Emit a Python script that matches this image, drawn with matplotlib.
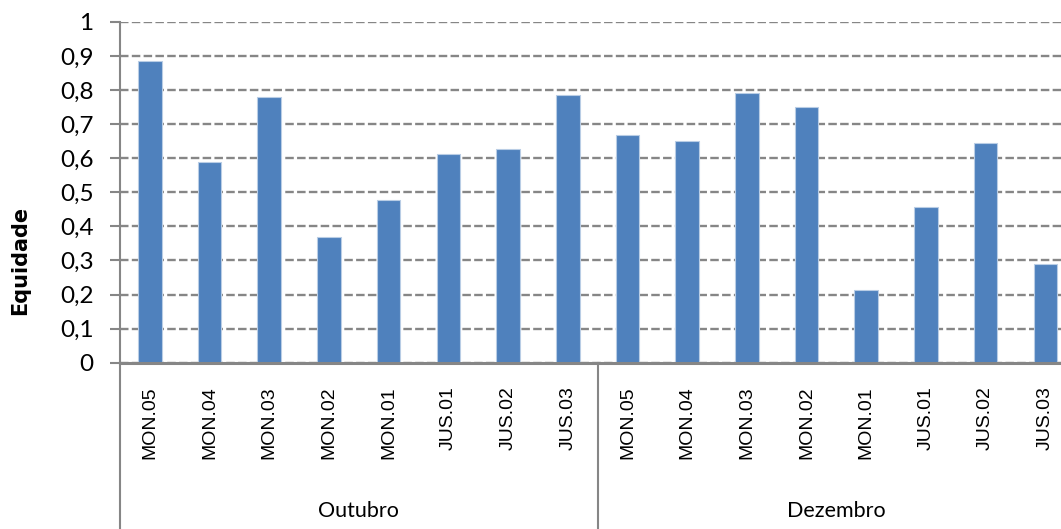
import matplotlib
matplotlib.use("Agg")
import matplotlib.pyplot as plt
import matplotlib.transforms as mtransforms
from matplotlib.ticker import FuncFormatter, MultipleLocator

# Equidade por ponto de amostragem, outubro e dezembro
meses = ["Outubro", "Dezembro"]
pontos = ["MON.05", "MON.04", "MON.03", "MON.02", "MON.01", "JUS.01", "JUS.02", "JUS.03"]
equidade_outubro = [0.885, 0.590, 0.780, 0.368, 0.479, 0.614, 0.626, 0.785]
equidade_dezembro = [0.667, 0.650, 0.791, 0.751, 0.214, 0.456, 0.644, 0.291]

valores = equidade_outubro + equidade_dezembro
rotulos = pontos + pontos
n = len(valores)

W, H = 1061, 529
fig = plt.figure(figsize=(W / 100, H / 100), dpi=100)

# área do gráfico (em pixels): eixo y em x=120, zero em y=362.7, topo em y=22
x0, y_zero, y_top, cat_w = 120, 362.7, 22, 59.7
ax = fig.add_axes([x0 / W, 1 - y_zero / H, n * cat_w / W, (y_zero - y_top) / H])

cinza = "#868686"
azul = "#4F81BD"

ax.bar(range(n), valores, width=0.395, color=azul, edgecolor="#B9CDE5",
       linewidth=0.8, zorder=3)

ax.set_xlim(-0.5, n - 0.5)
ax.set_ylim(0, 1)
ax.yaxis.set_major_locator(MultipleLocator(0.1))
ax.yaxis.set_major_formatter(
    FuncFormatter(lambda v, p: "0" if abs(v) < 1e-9 else ("1" if abs(v - 1) < 1e-9 else f"{v:.1f}".replace(".", ","))))
ax.grid(axis="y", color=cinza, linestyle=(0, (3.6, 1.4)), linewidth=1.7, zorder=1)
ax.set_xticks([])

for s in ["top", "right"]:
    ax.spines[s].set_visible(False)
ax.spines["left"].set_color(cinza)
ax.spines["left"].set_linewidth(1.5)
ax.spines["bottom"].set_color(cinza)
ax.spines["bottom"].set_linewidth(2.2)
ax.spines["bottom"].set_zorder(4)

ax.tick_params(axis="y", length=7, width=1.5, color=cinza, pad=12,
               labelsize=17.5, labelcolor="#000000")
for lbl in ax.get_yticklabels():
    lbl.set_fontfamily("Lato")

# rótulos das categorias e dos meses abaixo do eixo
trans = mtransforms.blended_transform_factory(ax.transData, fig.transFigure)
for i, r in enumerate(rotulos):
    ax.text(i, 1 - 386 / H, r, transform=trans, rotation=90, ha="center",
            va="top", fontsize=14, family="Liberation Sans", clip_on=False)

for k, m in enumerate(meses):
    centro = k * len(pontos) + (len(pontos) - 1) / 2
    ax.text(centro, 1 - 511 / H, m, transform=trans, ha="center", va="center",
            fontsize=15.5, family="Lato", clip_on=False)

# linhas separadoras dos grupos
for k in range(len(meses) + 1):
    xs = k * len(pontos) - 0.5
    ax.plot([xs, xs], [1 - y_zero / H, 0], transform=trans, color=cinza,
            linewidth=1.5, clip_on=False)

fig.text(20 / W, 1 - 260 / H, "Equidade", rotation=90, ha="center", va="center",
         fontsize=15, fontweight="bold", family="DejaVu Sans")

fig.savefig("out.png", dpi=100)
